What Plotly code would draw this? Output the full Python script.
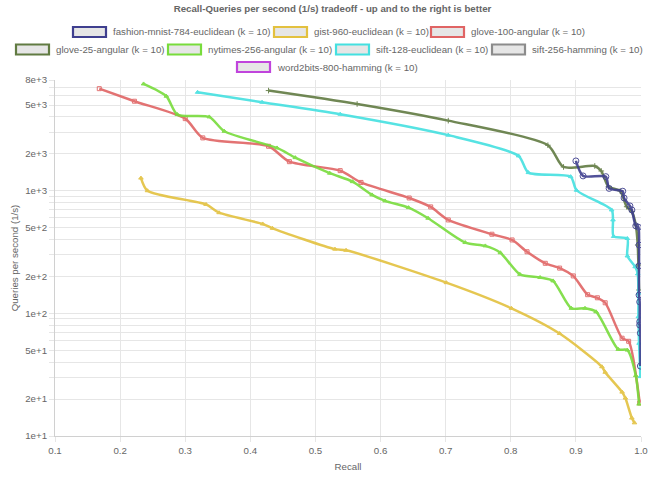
import plotly.graph_objects as go

# ---------------- data ----------------
fashion_recall = [0.900, 0.911, 0.946, 0.951, 0.972, 0.974, 0.983, 0.986, 0.992, 0.996,
                  0.997, 0.997, 0.997, 0.998, 0.998, 0.998, 0.999, 0.999]
fashion_qps = [1750, 1321, 1303, 1045, 991, 873, 752, 697, 517, 504,
               361, 244, 141, 124, 85.5, 80.4, 68.9, 37.2]

gist_recall = [0.232, 0.242, 0.332, 0.352, 0.419, 0.434, 0.530, 0.547, 0.701, 0.801,
               0.875, 0.940, 0.945, 0.971, 0.976, 0.986, 0.990]
gist_qps = [1268, 1000, 773, 662, 536, 494, 334, 327, 178, 110,
            68.5, 36.7, 33.1, 22.8, 20.4, 14.0, 12.8]

glove100_recall = [0.168, 0.222, 0.300, 0.327, 0.428, 0.460, 0.538, 0.570, 0.644, 0.677,
                   0.704, 0.771, 0.802, 0.825, 0.853, 0.875, 0.896, 0.918, 0.933, 0.945,
                   0.971, 0.981, 0.998]
glove100_qps = [6800, 5370, 3873, 2698, 2306, 1726, 1459, 1169, 873, 738,
                578, 442, 397, 318, 256, 234, 202, 142, 134, 122,
                62.7, 59.2, 18.6]

glove25_recall = [0.428, 0.564, 0.704, 0.857, 0.881, 0.929, 0.939, 0.950, 0.968, 0.978,
                  0.986, 0.992, 0.995, 0.996, 0.997]
glove25_qps = [6560, 5100, 3730, 2350, 1563, 1592, 1449, 1079, 995, 741,
               676, 526, 361, 248, 155]

nytimes_recall = [0.236, 0.271, 0.288, 0.337, 0.360, 0.441, 0.469, 0.522, 0.557, 0.587,
                  0.607, 0.643, 0.673, 0.730, 0.761, 0.784, 0.814, 0.845, 0.865, 0.893,
                  0.914, 0.931, 0.965, 0.979, 0.992, 0.997]
nytimes_qps = [7430, 5900, 4180, 4000, 3055, 2234, 1862, 1390, 1186, 925,
               826, 728, 597, 378, 355, 312, 208, 196, 184, 110,
               110, 103, 50.9, 50.2, 31.1, 18.2]

sift128_recall = [0.319, 0.418, 0.538, 0.704, 0.812, 0.827, 0.892, 0.901, 0.955, 0.957,
                  0.958, 0.979, 0.979, 0.991, 0.995, 0.996, 0.996, 0.997, 0.999]
sift128_qps = [6350, 5270, 4210, 2840, 1923, 1406, 1303, 1009, 697, 578,
               424, 408, 294, 240, 210, 146, 94, 57, 30.5]

sift256_recall = []
sift256_qps = []
word2bits_recall = []
word2bits_qps = []

series_names = [
    "fashion-mnist-784-euclidean (k = 10)",
    "gist-960-euclidean (k = 10)",
    "glove-100-angular (k = 10)",
    "glove-25-angular (k = 10)",
    "nytimes-256-angular (k = 10)",
    "sift-128-euclidean (k = 10)",
    "sift-256-hamming (k = 10)",
    "word2bits-800-hamming (k = 10)",
]

y_tick_values = [10, 20, 30, 40, 50, 60, 70, 80, 90,
                 100, 200, 300, 400, 500, 600, 700, 800, 900,
                 1000, 2000, 3000, 4000, 5000, 6000, 7000, 8000]
y_tick_labels = ["1e+1", "2e+1", "", "", "5e+1", "", "", "", "",
                 "1e+2", "2e+2", "", "", "5e+2", "", "", "", "",
                 "1e+3", "2e+3", "", "", "5e+3", "", "", "8e+3"]
x_tick_values = [0.1, 0.2, 0.3, 0.4, 0.5, 0.6, 0.7, 0.8, 0.9, 1.0]
x_tick_labels = ["0.1", "0.2", "0.3", "0.4", "0.5", "0.6", "0.7", "0.8", "0.9", "1.0"]

# ---------------- styles ----------------
colors = ["#3f3f8f", "#e3c13f", "#e06464", "#617b42", "#78dc3c", "#44e0e0", "#8c8c8c", "#c044dc"]
symbols = ["circle-open", "triangle-up", "square-open", "cross-thin-open", "triangle-up",
           "triangle-up", "circle", "circle"]
msizes = [6, 4, 4, 4, 4, 4, 4, 4]

data = [
    (fashion_recall, fashion_qps),
    (gist_recall, gist_qps),
    (glove100_recall, glove100_qps),
    (glove25_recall, glove25_qps),
    (nytimes_recall, nytimes_qps),
    (sift128_recall, sift128_qps),
    (sift256_recall, sift256_qps),
    (word2bits_recall, word2bits_qps),
]

FONT = "Liberation Sans, Arial, sans-serif"
FS = 9.7
GREY = "#666666"
W, H = 665, 478
L, R, T, B = 55, 24, 80, 42
PW, PH = W - L - R, H - T - B

fig = go.Figure()
order = [6, 7, 1, 2, 4, 3, 5, 0]
for i in order:
    xs, ys = data[i]
    fig.add_trace(go.Scatter(
        x=xs, y=ys, mode="lines+markers", name=series_names[i],
        line=dict(color=colors[i], width=2.5, shape="spline", smoothing=0.7),
        marker=dict(symbol=symbols[i], size=msizes[i], color=colors[i],
                    line=dict(color=colors[i], width=1)),
        opacity=0.9,
        showlegend=False,
    ))


def px2paper(px, py):
    return (px - L) / PW, (H - B - py) / PH


# manual legend (chart.js style boxes): (series index, box left x, row center y)
legend_items = [
    (0, 73, 32), (1, 274, 32), (2, 431, 32),
    (3, 16, 49.5), (4, 168, 49.5), (5, 336, 49.5), (6, 492, 49.5),
    (7, 237, 67),
]
box_w, box_h, gap_box_text = 33, 10, 5

shapes = []
annotations = []
for i, bx, cy in legend_items:
    x0, y0 = px2paper(bx, cy + box_h / 2)
    x1, y1 = px2paper(bx + box_w, cy - box_h / 2)
    shapes.append(dict(type="rect", xref="paper", yref="paper",
                       x0=x0, x1=x1, y0=y0, y1=y1,
                       fillcolor="#e6e6e6", line=dict(color=colors[i], width=2.2)))
    tx, ty = px2paper(bx + box_w + gap_box_text, cy)
    annotations.append(dict(xref="paper", yref="paper", x=tx, y=ty,
                            xanchor="left", yanchor="middle", showarrow=False,
                            text=series_names[i],
                            font=dict(family=FONT, size=FS, color=GREY)))

fig.update_layout(
    width=W, height=H,
    margin=dict(l=L, r=R, t=T, b=B),
    paper_bgcolor="white", plot_bgcolor="white",
    title=dict(text="<b>Recall-Queries per second (1/s) tradeoff - up and to the right is better</b>",
               x=0.5, xanchor="center", y=1 - 9 / H, yanchor="middle",
               font=dict(family=FONT, size=FS, color=GREY)),
    shapes=shapes,
    annotations=annotations,
    showlegend=False,
    xaxis=dict(
        range=[0.1, 1.0], tickvals=x_tick_values, ticktext=x_tick_labels,
        showgrid=True, gridcolor="#e6e6e6", gridwidth=1,
        showline=True, linecolor="#d0d0d0", linewidth=1,
        ticks="outside", ticklen=5, tickcolor="#e6e6e6",
        zeroline=False, automargin=False,
        tickfont=dict(family=FONT, size=FS, color=GREY),
        title=dict(text="Recall", font=dict(family=FONT, size=FS, color=GREY), standoff=8),
    ),
    yaxis=dict(
        type="log", range=[1, 3.90309],
        tickvals=y_tick_values, ticktext=y_tick_labels,
        showgrid=True, gridcolor="#e6e6e6", gridwidth=1,
        showline=True, linecolor="#d0d0d0", linewidth=1,
        ticks="outside", ticklen=5, tickcolor="#e6e6e6",
        zeroline=False, automargin=False,
        tickfont=dict(family=FONT, size=FS, color=GREY),
        title=dict(text="Queries per second (1/s)", font=dict(family=FONT, size=FS, color=GREY), standoff=4),
    ),
)

fig.write_html("out.html", config={"displayModeBar": False},
               post_script="document.body.style.margin='0px';")
